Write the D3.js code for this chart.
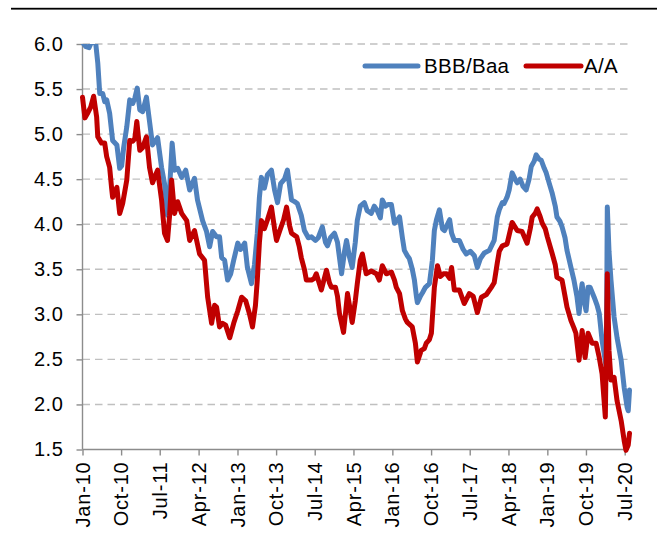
<!DOCTYPE html>
<html><head><meta charset="utf-8">
<script src="https://cdn.jsdelivr.net/npm/d3@7"></script>
<style>
html,body{margin:0;padding:0;background:#fff;}
svg{display:block;font-family:"Liberation Sans",Arial,sans-serif;}
</style></head>
<body><svg id="chart" width="657" height="545"></svg>
<script>
const seriesNames = ["BBB/Baa", "A/A"];
const seriesColors = ["#4F81BD", "#C00000"];
const yTicks = [1.5, 2.0, 2.5, 3.0, 3.5, 4.0, 4.5, 5.0, 5.5, 6.0];
const xTickLabels = ["Jan-10","Oct-10","Jul-11","Apr-12","Jan-13","Oct-13","Jul-14","Apr-15","Jan-16","Oct-16","Jul-17","Apr-18","Jan-19","Oct-19","Jul-20"];

const bbbBaa = [
["2010-01-01",6.02],["2010-01-25",5.97],["2010-02-16",5.96],["2010-03-14",6.05],["2010-04-05",6.0],["2010-04-19",5.79],["2010-05-03",5.45],["2010-05-24",5.45],["2010-06-07",5.36],["2010-06-21",5.38],["2010-07-12",5.23],["2010-08-02",4.93],["2010-09-01",4.88],["2010-09-21",4.62],["2010-10-05",4.65],["2010-10-19",4.85],["2010-11-10",5.08],["2010-12-01",5.38],["2010-12-22",5.34],["2011-01-06",5.40],["2011-01-23",5.51],["2011-02-10",5.27],["2011-03-02",5.25],["2011-03-29",5.41],["2011-04-20",5.14],["2011-05-11",4.88],["2011-06-16",4.96],["2011-07-14",4.63],["2011-08-04",4.45],["2011-08-25",4.10],["2011-09-09",4.40],["2011-09-27",4.90],["2011-10-14",4.60],["2011-11-05",4.62],["2011-12-03",4.52],["2012-01-01",4.60],["2012-01-29",4.38],["2012-03-03",4.51],["2012-03-24",4.27],["2012-04-29",4.04],["2012-05-27",3.92],["2012-06-18",3.75],["2012-07-09",3.92],["2012-08-06",3.86],["2012-08-27",3.86],["2012-09-11",3.63],["2012-10-02",3.60],["2012-10-23",3.38],["2012-11-14",3.45],["2012-12-05",3.60],["2013-01-03",3.79],["2013-01-23",3.72],["2013-02-21",3.79],["2013-03-12",3.52],["2013-04-10",3.34],["2013-05-01",3.55],["2013-05-21",3.90],["2013-06-05",4.30],["2013-06-19",4.52],["2013-07-10",4.40],["2013-08-01",4.55],["2013-08-29",4.60],["2013-09-20",4.38],["2013-10-11",4.24],["2013-11-02",4.45],["2013-11-29",4.50],["2013-12-20",4.60],["2014-01-18",4.27],["2014-02-09",4.25],["2014-02-28",4.23],["2014-03-28",4.10],["2014-04-19",3.93],["2014-05-17",3.85],["2014-06-08",3.86],["2014-07-06",3.82],["2014-07-26",3.85],["2014-08-24",3.97],["2014-09-15",3.80],["2014-09-29",3.76],["2014-10-20",3.85],["2014-11-18",3.90],["2014-12-09",3.80],["2015-01-07",3.45],["2015-01-28",3.70],["2015-02-11",3.82],["2015-03-02",3.65],["2015-03-23",3.52],["2015-04-14",3.80],["2015-04-28",4.04],["2015-05-19",4.20],["2015-06-17",4.24],["2015-07-07",4.15],["2015-08-05",4.12],["2015-08-26",4.20],["2015-09-17",4.15],["2015-10-08",4.07],["2015-10-22",4.27],["2015-11-13",4.20],["2015-12-04",4.22],["2015-12-25",4.22],["2016-01-16",4.01],["2016-02-07",4.05],["2016-02-21",4.08],["2016-03-12",3.85],["2016-03-26",3.71],["2016-04-16",3.65],["2016-04-30",3.62],["2016-05-21",3.50],["2016-06-05",3.38],["2016-06-19",3.20],["2016-06-26",3.13],["2016-07-17",3.20],["2016-08-01",3.24],["2016-08-22",3.30],["2016-09-19",3.34],["2016-10-10",3.60],["2016-10-24",3.93],["2016-11-08",4.05],["2016-11-29",4.16],["2016-12-20",3.95],["2017-01-04",3.93],["2017-01-25",4.00],["2017-02-09",4.05],["2017-02-23",3.90],["2017-03-14",3.82],["2017-04-19",3.82],["2017-05-16",3.72],["2017-06-07",3.67],["2017-07-05",3.70],["2017-08-03",3.65],["2017-08-24",3.52],["2017-09-15",3.62],["2017-10-12",3.68],["2017-11-17",3.71],["2017-12-21",3.82],["2018-01-12",4.08],["2018-01-26",4.16],["2018-02-17",4.24],["2018-03-01",4.23],["2018-03-22",4.30],["2018-04-06",4.38],["2018-04-27",4.57],["2018-05-18",4.50],["2018-06-02",4.46],["2018-06-23",4.50],["2018-07-13",4.42],["2018-08-04",4.38],["2018-08-25",4.50],["2018-09-09",4.64],["2018-09-30",4.70],["2018-10-14",4.77],["2018-11-05",4.72],["2018-11-19",4.71],["2018-12-10",4.62],["2018-12-24",4.57],["2019-01-15",4.45],["2019-02-05",4.34],["2019-02-26",4.20],["2019-03-10",4.08],["2019-04-01",4.03],["2019-04-15",3.97],["2019-05-06",3.85],["2019-05-20",3.71],["2019-06-17",3.52],["2019-07-08",3.38],["2019-07-29",3.20],["2019-08-13",3.01],["2019-08-27",3.25],["2019-09-04",3.34],["2019-09-18",3.15],["2019-10-02",3.04],["2019-10-16",3.30],["2019-10-30",3.30],["2019-11-28",3.19],["2019-12-19",3.10],["2020-01-03",3.01],["2020-01-23",2.71],["2020-02-08",2.55],["2020-02-22",2.41],["2020-02-29",4.19],["2020-03-12",3.70],["2020-03-26",3.38],["2020-04-17",2.97],["2020-05-08",2.74],["2020-06-06",2.49],["2020-06-27",2.19],["2020-07-18",1.97],["2020-07-26",1.93],["2020-08-04",2.16]
];

const aA = [
["2010-01-01",5.41],["2010-01-18",5.18],["2010-02-09",5.24],["2010-02-28",5.30],["2010-03-21",5.42],["2010-04-11",5.19],["2010-04-19",4.97],["2010-05-16",4.90],["2010-06-07",4.90],["2010-06-21",4.75],["2010-07-12",4.63],["2010-07-26",4.40],["2010-08-02",4.30],["2010-09-01",4.41],["2010-09-21",4.12],["2010-10-12",4.23],["2010-11-10",4.49],["2010-12-01",4.93],["2010-12-22",4.92],["2011-01-06",4.95],["2011-01-20",5.14],["2011-02-10",4.82],["2011-03-02",4.85],["2011-03-29",4.97],["2011-04-20",4.63],["2011-05-11",4.46],["2011-06-02",4.55],["2011-06-16",4.60],["2011-07-14",4.27],["2011-08-04",3.90],["2011-08-25",3.82],["2011-09-09",4.10],["2011-09-23",4.49],["2011-10-14",4.12],["2011-11-05",4.25],["2011-12-03",4.12],["2012-01-08",4.04],["2012-01-29",3.82],["2012-03-03",3.93],["2012-04-08",3.67],["2012-05-13",3.60],["2012-06-04",3.19],["2012-07-02",2.90],["2012-07-23",3.10],["2012-08-06",3.08],["2012-08-27",2.86],["2012-09-18",2.90],["2012-10-09",2.88],["2012-11-07",2.74],["2012-12-05",2.90],["2013-01-03",3.04],["2013-01-30",3.19],["2013-02-28",3.15],["2013-03-26",3.01],["2013-04-17",2.86],["2013-05-08",3.10],["2013-05-21",3.38],["2013-06-05",3.80],["2013-06-19",4.04],["2013-07-10",3.95],["2013-08-01",4.05],["2013-08-29",4.19],["2013-09-20",3.95],["2013-10-04",3.82],["2013-10-25",3.92],["2013-11-23",4.05],["2013-12-14",4.19],["2014-01-05",3.98],["2014-01-18",3.90],["2014-02-24",3.86],["2014-03-14",3.75],["2014-03-28",3.63],["2014-04-19",3.50],["2014-05-03",3.38],["2014-06-08",3.38],["2014-06-28",3.40],["2014-07-12",3.45],["2014-08-17",3.27],["2014-09-22",3.49],["2014-10-13",3.35],["2014-10-27",3.30],["2014-11-25",3.30],["2014-12-09",3.20],["2014-12-23",3.01],["2015-01-21",2.80],["2015-02-18",3.23],["2015-03-09",3.05],["2015-03-23",2.91],["2015-04-14",3.15],["2015-04-28",3.34],["2015-05-19",3.60],["2015-06-03",3.67],["2015-06-30",3.45],["2015-08-05",3.48],["2015-09-10",3.45],["2015-10-01",3.38],["2015-10-22",3.54],["2015-11-20",3.45],["2015-12-25",3.47],["2016-01-16",3.38],["2016-01-29",3.30],["2016-02-21",3.23],["2016-03-12",3.04],["2016-04-02",2.95],["2016-04-16",2.91],["2016-05-21",2.86],["2016-06-12",2.68],["2016-06-26",2.47],["2016-07-23",2.60],["2016-08-14",2.62],["2016-08-28",2.68],["2016-09-19",2.72],["2016-10-03",2.79],["2016-10-24",3.30],["2016-11-15",3.54],["2016-12-06",3.42],["2016-12-27",3.45],["2017-01-18",3.45],["2017-02-09",3.40],["2017-02-23",3.52],["2017-03-14",3.27],["2017-04-19",3.27],["2017-05-23",3.12],["2017-06-28",3.23],["2017-07-26",3.20],["2017-08-24",3.02],["2017-09-22",3.19],["2017-10-27",3.22],["2017-12-01",3.30],["2017-12-21",3.35],["2018-01-12",3.57],["2018-01-26",3.70],["2018-02-17",3.76],["2018-03-22",3.78],["2018-04-27",4.02],["2018-06-02",3.93],["2018-07-06",3.92],["2018-08-11",3.79],["2018-09-02",3.95],["2018-09-16",4.08],["2018-10-07",4.12],["2018-10-21",4.17],["2018-11-12",4.08],["2018-11-26",4.01],["2018-12-17",3.95],["2019-01-01",3.86],["2019-02-05",3.67],["2019-02-26",3.55],["2019-03-10",3.41],["2019-04-15",3.38],["2019-05-06",3.20],["2019-05-20",3.08],["2019-06-17",2.93],["2019-07-08",2.85],["2019-07-22",2.79],["2019-08-13",2.49],["2019-09-04",2.82],["2019-09-25",2.52],["2019-10-16",2.79],["2019-11-14",2.68],["2019-12-12",2.68],["2020-01-03",2.52],["2020-01-23",2.34],["2020-02-15",1.86],["2020-02-29",3.45],["2020-03-12",2.60],["2020-03-26",2.27],["2020-04-17",2.30],["2020-05-08",2.04],["2020-06-06",1.82],["2020-06-27",1.60],["2020-07-10",1.49],["2020-07-26",1.55],["2020-08-04",1.68]
];

(function () {
const parseDate = d3.timeParse("%Y-%m-%d");
const parseTick = d3.timeParse("%b-%y");
const svg = d3.select("#chart");

const plotLeft = 82.5, plotTop = 44, plotBottom = 449.5, gridRight = 628;
const x = d3.scaleTime()
  .domain([parseTick(xTickLabels[0]), parseTick(xTickLabels[xTickLabels.length - 1])])
  .range([plotLeft, 624.7]);
const y = d3.scaleLinear().domain([1.5, 6.0]).range([plotBottom, plotTop]);

// top rule
svg.append("rect").attr("x", 11).attr("y", 7.8).attr("width", 646).attr("height", 1.8).attr("fill", "#000");

// gridlines
svg.append("g").selectAll("line").data(yTicks.filter(v => v > 1.5)).join("line")
  .attr("x1", plotLeft).attr("x2", gridRight)
  .attr("y1", d => y(d)).attr("y2", d => y(d))
  .attr("stroke", "#c0c0c0").attr("stroke-width", 1.4)
  .attr("stroke-dasharray", "7.5,5");

const axisColor = "#8c8c8c";
const fontFam = "'Liberation Sans', Arial, sans-serif";

// y axis
const yAxis = svg.append("g").attr("transform", `translate(${plotLeft},0)`)
  .call(d3.axisLeft(y).tickValues(yTicks).tickFormat(d3.format(".1f")).tickSize(6).tickPadding(13));
yAxis.select(".domain").attr("stroke", axisColor).attr("stroke-width", 1.4).attr("d", `M0,${plotTop}V${plotBottom}`);
yAxis.selectAll(".tick line").attr("stroke", axisColor).attr("stroke-width", 1.4);
yAxis.selectAll(".tick text").attr("fill", "#000").attr("font-size", 20)
  .attr("font-family", fontFam).attr("letter-spacing", 0.6);

// x axis
const xAxis = svg.append("g").attr("transform", `translate(0,${plotBottom})`)
  .call(d3.axisBottom(x).tickValues(xTickLabels.map(parseTick)).tickFormat(d3.timeFormat("%b-%y")).tickSize(6));
xAxis.select(".domain").attr("stroke", axisColor).attr("stroke-width", 1.4).attr("d", `M${plotLeft},0H${gridRight}`);
xAxis.selectAll(".tick line").attr("stroke", axisColor).attr("stroke-width", 1.4);
xAxis.selectAll(".tick text")
  .attr("fill", "#000").attr("font-size", 20)
  .attr("font-family", fontFam).attr("letter-spacing", 0.8)
  .attr("text-anchor", "end")
  .attr("transform", "rotate(-90)")
  .attr("x", -12).attr("y", 0).attr("dy", "0.33em");

// clip
svg.append("clipPath").attr("id", "plotclip").append("rect")
  .attr("x", 0).attr("y", plotTop).attr("width", 657).attr("height", 545 - plotTop);

const line = d3.line().x(d => x(parseDate(d[0]))).y(d => y(d[1]));
const seriesData = [bbbBaa, aA];
svg.append("g").attr("clip-path", "url(#plotclip)")
  .selectAll("path").data(seriesData).join("path")
  .attr("d", line)
  .attr("fill", "none")
  .attr("stroke", (d, i) => seriesColors[i])
  .attr("stroke-width", 5)
  .attr("stroke-linejoin", "round")
  .attr("stroke-linecap", "round");

// legend
const legendItems = [{x1: 365, x2: 418, tx: 424}, {x1: 526, x2: 581, tx: 584}];
const lg = svg.append("g");
legendItems.forEach((it, i) => {
  lg.append("line").attr("x1", it.x1).attr("x2", it.x2).attr("y1", 66).attr("y2", 66)
    .attr("stroke", seriesColors[i]).attr("stroke-width", 5).attr("stroke-linecap", "round");
  lg.append("text").attr("x", it.tx).attr("y", 72.5).attr("font-size", 20.5).attr("fill", "#000")
    .attr("font-family", fontFam).attr("letter-spacing", 0.3).text(seriesNames[i]);
});
})();
</script></body></html>
